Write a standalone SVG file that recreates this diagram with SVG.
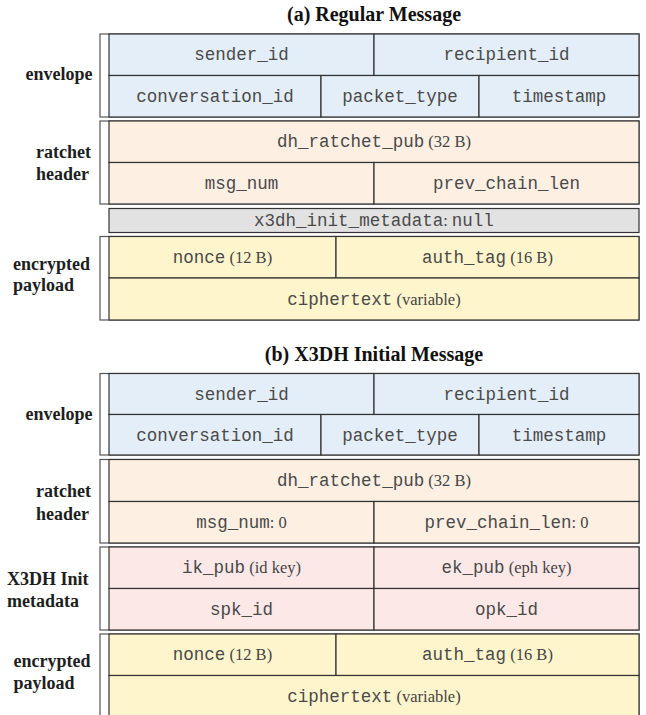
<svg xmlns="http://www.w3.org/2000/svg" width="646" height="715" viewBox="0 0 646 715">
  <style>
    .title { font-family: "Liberation Serif", "Times New Roman", serif; font-weight: bold; font-size: 20px; fill: #111; text-anchor: middle; }
    .lbl { font-family: "Liberation Serif", "Times New Roman", serif; font-weight: bold; font-size: 18px; fill: #1e1e1e; }
    .mono { font-family: "Liberation Mono", "Courier New", monospace; font-size: 17.5px; fill: #4a4a4a; text-anchor: middle; }
    .note { font-family: "Liberation Serif", "Times New Roman", serif; font-size: 16.5px; fill: #444; }
    .frame { fill: #ffffff; stroke: #555; stroke-width: 1.2; }
    .cell { stroke: #333; stroke-width: 1.2; }
    .env { fill: #e4eef8; }
    .rat { fill: #fdefe2; }
    .enc { fill: #fff5cc; }
    .x3 { fill: #fde8e8; }
    .nil { fill: #e2e2e2; }
  </style>

  <!-- (a) Regular Message -->
  <text class="title" x="374" y="21">(a) Regular Message</text>

  <g id="a-envelope">
    <rect class="frame" x="100" y="34" width="539" height="83"/>
    <rect class="cell env" x="109" y="34" width="265" height="41.5"/>
    <rect class="cell env" x="374" y="34" width="265" height="41.5"/>
    <rect class="cell env" x="109" y="75.5" width="212" height="41.5"/>
    <rect class="cell env" x="321" y="75.5" width="158" height="41.5"/>
    <rect class="cell env" x="479" y="75.5" width="160" height="41.5"/>
    <text class="lbl" x="92.5" y="79.5" text-anchor="end">envelope</text>
    <text class="mono" x="241.5" y="60">sender_id</text>
    <text class="mono" x="506.5" y="60">recipient_id</text>
    <text class="mono" x="215" y="101.5">conversation_id</text>
    <text class="mono" x="400" y="101.5">packet_type</text>
    <text class="mono" x="559" y="101.5">timestamp</text>
  </g>

  <g id="a-ratchet">
    <rect class="frame" x="100" y="121" width="539" height="83"/>
    <rect class="cell rat" x="109" y="121" width="530" height="41.5"/>
    <rect class="cell rat" x="109" y="162.5" width="265" height="41.5"/>
    <rect class="cell rat" x="374" y="162.5" width="265" height="41.5"/>
    <text class="lbl" x="36" y="158">ratchet</text>
    <text class="lbl" x="36" y="180">header</text>
    <text class="mono" x="374" y="147.3">dh_ratchet_pub<tspan class="note"> (32 B)</tspan></text>
    <text class="mono" x="241.5" y="188.5">msg_num</text>
    <text class="mono" x="506.5" y="188.5">prev_chain_len</text>
  </g>

  <g id="a-x3dh-null">
    <rect class="cell nil" x="109" y="208.5" width="530" height="24"/>
    <text class="mono" x="374" y="225.5">x3dh_init_metadata<tspan class="note">: </tspan>null</text>
  </g>

  <g id="a-payload">
    <rect class="frame" x="100" y="236.5" width="539" height="83.5"/>
    <rect class="cell enc" x="109" y="236.5" width="227" height="41.5"/>
    <rect class="cell enc" x="336" y="236.5" width="303" height="41.5"/>
    <rect class="cell enc" x="109" y="278" width="530" height="42"/>
    <text class="lbl" x="13" y="270">encrypted</text>
    <text class="lbl" x="13" y="291">payload</text>
    <text class="mono" x="222.5" y="263">nonce<tspan class="note"> (12 B)</tspan></text>
    <text class="mono" x="487.5" y="263">auth_tag<tspan class="note"> (16 B)</tspan></text>
    <text class="mono" x="374" y="304.5">ciphertext<tspan class="note"> (variable)</tspan></text>
  </g>

  <!-- (b) X3DH Initial Message -->
  <text class="title" x="374" y="361">(b) X3DH Initial Message</text>

  <g id="b-envelope">
    <rect class="frame" x="100" y="373.5" width="539" height="81.5"/>
    <rect class="cell env" x="109" y="373.5" width="265" height="41"/>
    <rect class="cell env" x="374" y="373.5" width="265" height="41"/>
    <rect class="cell env" x="109" y="414.5" width="212" height="40.5"/>
    <rect class="cell env" x="321" y="414.5" width="158" height="40.5"/>
    <rect class="cell env" x="479" y="414.5" width="160" height="40.5"/>
    <text class="lbl" x="92.5" y="419.5" text-anchor="end">envelope</text>
    <text class="mono" x="241.5" y="399.5">sender_id</text>
    <text class="mono" x="506.5" y="399.5">recipient_id</text>
    <text class="mono" x="215" y="440.5">conversation_id</text>
    <text class="mono" x="400" y="440.5">packet_type</text>
    <text class="mono" x="559" y="440.5">timestamp</text>
  </g>

  <g id="b-ratchet">
    <rect class="frame" x="100" y="459.5" width="539" height="83.5"/>
    <rect class="cell rat" x="109" y="459.5" width="530" height="42"/>
    <rect class="cell rat" x="109" y="501.5" width="265" height="41.5"/>
    <rect class="cell rat" x="374" y="501.5" width="265" height="41.5"/>
    <text class="lbl" x="36" y="496.5">ratchet</text>
    <text class="lbl" x="36" y="519.5">header</text>
    <text class="mono" x="374" y="486">dh_ratchet_pub<tspan class="note"> (32 B)</tspan></text>
    <text class="mono" x="241.5" y="527.5">msg_num<tspan class="note">: 0</tspan></text>
    <text class="mono" x="506.5" y="527.5">prev_chain_len<tspan class="note">: 0</tspan></text>
  </g>

  <g id="b-x3dh">
    <rect class="frame" x="100" y="547" width="539" height="83"/>
    <rect class="cell x3" x="109" y="547" width="265" height="41.5"/>
    <rect class="cell x3" x="374" y="547" width="265" height="41.5"/>
    <rect class="cell x3" x="109" y="588.5" width="265" height="41.5"/>
    <rect class="cell x3" x="374" y="588.5" width="265" height="41.5"/>
    <text class="lbl" x="7" y="585">X3DH Init</text>
    <text class="lbl" x="7" y="607">metadata</text>
    <text class="mono" x="241.5" y="573">ik_pub<tspan class="note"> (id key)</tspan></text>
    <text class="mono" x="506.5" y="573">ek_pub<tspan class="note"> (eph key)</tspan></text>
    <text class="mono" x="241.5" y="614.5">spk_id</text>
    <text class="mono" x="506.5" y="614.5">opk_id</text>
  </g>

  <g id="b-payload">
    <rect class="frame" x="100" y="634" width="539" height="84"/>
    <rect class="cell enc" x="109" y="634" width="227" height="41.5"/>
    <rect class="cell enc" x="336" y="634" width="303" height="41.5"/>
    <rect class="cell enc" x="109" y="675.5" width="530" height="42.5"/>
    <text class="lbl" x="13.5" y="667">encrypted</text>
    <text class="lbl" x="13.5" y="689">payload</text>
    <text class="mono" x="222.5" y="660">nonce<tspan class="note"> (12 B)</tspan></text>
    <text class="mono" x="487.5" y="660">auth_tag<tspan class="note"> (16 B)</tspan></text>
    <text class="mono" x="374" y="701.5">ciphertext<tspan class="note"> (variable)</tspan></text>
  </g>
</svg>
